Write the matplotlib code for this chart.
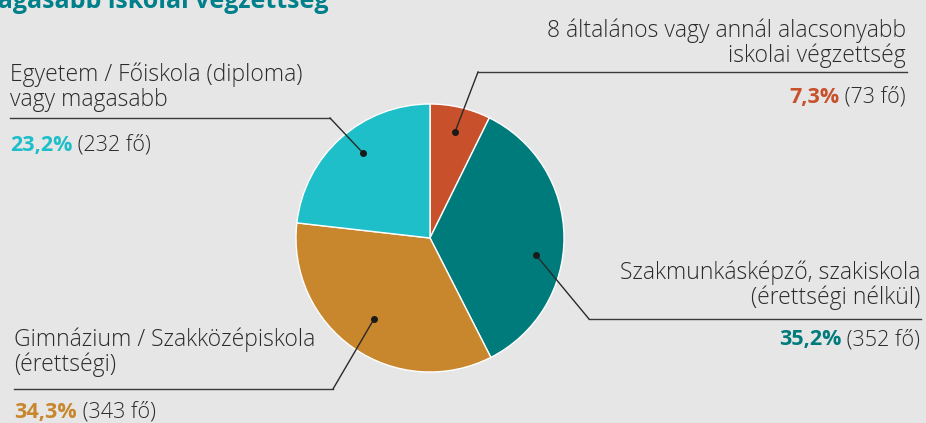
import matplotlib.pyplot as plt

# data
labels = ["8 általános vagy annál alacsonyabb\niskolai végzettség",
          "Szakmunkásképző, szakiskola\n(érettségi nélkül)",
          "Gimnázium / Szakközépiskola\n(érettségi)",
          "Egyetem / Főiskola (diploma)\nvagy magasabb"]
shares = [7.3, 35.2, 34.3, 23.2]
counts = [73, 352, 343, 232]
colors = ["#C8502A", "#007B7B", "#C8862D", "#1EBFC8"]
title = "Legmagasabb iskolai végzettség"

plt.rcParams['font.family'] = ['Open Sans', 'DejaVu Sans']
W, H = 926, 423
fig = plt.figure(figsize=(W / 100, H / 100), dpi=100)
fig.patch.set_facecolor("#E6E6E6")
ax = fig.add_axes([0, 0, 1, 1])

def Y(y):
    return H - y

cx, cy, r = 430, 238, 134
ax.pie(shares, colors=colors, startangle=90, counterclock=False,
       center=(cx, Y(cy)), radius=r, frame=True,
       wedgeprops=dict(edgecolor="white", linewidth=1))
ax.set_xlim(0, W)
ax.set_ylim(0, H)
ax.set_aspect("equal")
ax.axis("off")

def width_of(s, **kw):
    t = ax.text(0, 0, s, **kw)
    fig.canvas.draw()
    w = t.get_window_extent().width
    t.remove()
    return w

# title, cropped at the top and left of the image
title_kw = dict(color="#00808A", fontsize=18, fontweight="bold")
shift = width_of("Legm", **title_kw)
ax.text(-shift - 2, Y(8), title, ha="left", va="baseline", **title_kw)

# label layout: (text x, align, label y, rule y, rule x0, rule x1, value y, dot, elbow)
layout = [
    (906, "right", 43, 72, 478, 907, 97, (455, 132), (478, 72)),
    (920, "right", 285, 319, 589, 921, 340, (536, 255), (589, 319)),
    (14, "left", 352, 389, 14, 333, 412, (374, 319), (333, 389)),
    (10, "left", 87, 118, 10, 330, 145, (363, 153), (330, 118)),
]

txt_kw = dict(fontsize=16.5, color="#2A2A2A", fontweight="light")
val_kw = dict(fontsize=15.5, color="#2A2A2A", fontweight="light")

for i, (tx, ha, ly, ry, x0, x1, vy, dot, elbow) in enumerate(layout):
    ax.text(tx, Y(ly), labels[i], ha=ha, va="center", linespacing=1.05,
            multialignment=ha, **txt_kw)
    ax.plot([x0, x1], [Y(ry), Y(ry)], color="#3A3A3A", lw=1)
    ax.plot([dot[0], elbow[0]], [Y(dot[1]), Y(elbow[1])], color="#2A2A2A", lw=1)
    ax.plot(dot[0], Y(dot[1]), "o", color="#1A1A1A", ms=4)
    pct = f"{shares[i]:.1f}%".replace(".", ",")
    rest = f" ({counts[i]} fő)"
    if ha == "left":
        t = ax.text(tx, Y(vy), pct, ha="left", va="center", fontsize=15.5,
                    color=colors[i], fontweight="bold")
        fig.canvas.draw()
        bb = t.get_window_extent().transformed(ax.transData.inverted())
        ax.text(bb.x1, Y(vy), rest, ha="left", va="center", **val_kw)
    else:
        t = ax.text(tx, Y(vy), rest, ha="right", va="center", **val_kw)
        fig.canvas.draw()
        bb = t.get_window_extent().transformed(ax.transData.inverted())
        ax.text(bb.x0, Y(vy), pct, ha="right", va="center", fontsize=15.5,
                color=colors[i], fontweight="bold")

fig.savefig("out.png", dpi=100, facecolor=fig.get_facecolor())
